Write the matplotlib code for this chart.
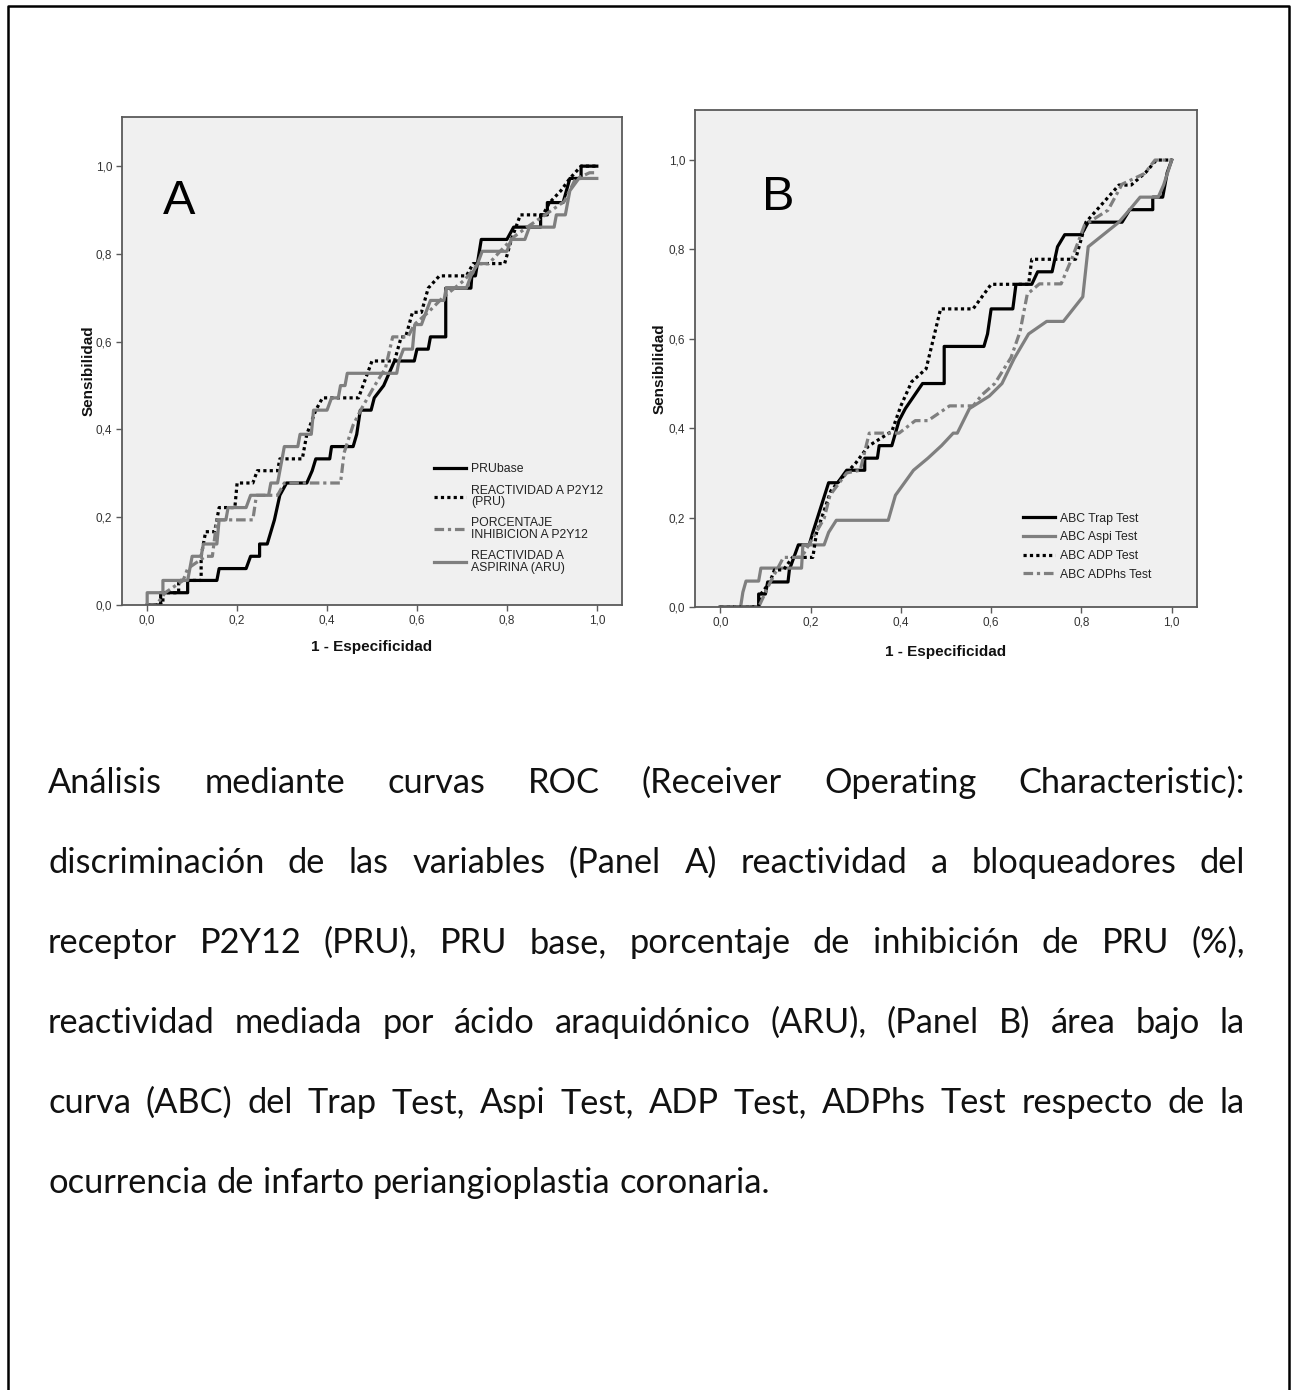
import matplotlib
matplotlib.use('Agg')
import matplotlib.pyplot as plt
from matplotlib.lines import Line2D

# ---- datos ----
tick_vals = [0.0, 0.2, 0.4, 0.6, 0.8, 1.0]
tick_labels = ['0,0', '0,2', '0,4', '0,6', '0,8', '1,0']

# Panel A
pru_base_x = [0, 0.03, 0.03, 0.09, 0.09, 0.155, 0.16, 0.22, 0.23, 0.25, 0.25, 0.267, 0.283, 0.295, 0.31, 0.355,
              0.367, 0.375, 0.406, 0.41, 0.458, 0.466, 0.474, 0.498, 0.505, 0.526, 0.55, 0.594, 0.6, 0.625, 0.63,
              0.664, 0.664, 0.72, 0.722, 0.73, 0.743, 0.80, 0.815, 0.875, 0.875, 0.89, 0.89, 0.925, 0.94, 0.965,
              0.965, 1.0]
pru_base_y = [0, 0, 0.028, 0.028, 0.056, 0.056, 0.083, 0.083, 0.111, 0.111, 0.139, 0.139, 0.194, 0.25, 0.278,
              0.278, 0.306, 0.333, 0.333, 0.361, 0.361, 0.389, 0.444, 0.444, 0.472, 0.5, 0.556, 0.556, 0.583,
              0.583, 0.611, 0.611, 0.722, 0.722, 0.75, 0.75, 0.833, 0.833, 0.861, 0.861, 0.889, 0.889, 0.917,
              0.917, 0.972, 0.972, 1.0, 1.0]

pru_x = [0, 0.035, 0.035, 0.07, 0.07, 0.12, 0.12, 0.13, 0.15, 0.16, 0.195, 0.2, 0.235, 0.245, 0.29, 0.295,
         0.345, 0.355, 0.375, 0.39, 0.47, 0.48, 0.5, 0.55, 0.565, 0.575, 0.59, 0.61, 0.625, 0.65, 0.71, 0.725,
         0.795, 0.81, 0.83, 0.88, 0.895, 0.92, 0.94, 0.965, 1.0]
pru_y = [0, 0, 0.028, 0.028, 0.056, 0.056, 0.111, 0.167, 0.167, 0.222, 0.222, 0.278, 0.278, 0.306, 0.306,
         0.333, 0.333, 0.389, 0.444, 0.472, 0.472, 0.5, 0.556, 0.556, 0.611, 0.611, 0.667, 0.667, 0.722, 0.75,
         0.75, 0.778, 0.778, 0.833, 0.889, 0.889, 0.917, 0.944, 0.972, 1.0, 1.0]

inhib_x = [0, 0.02, 0.04, 0.08, 0.09, 0.13, 0.145, 0.155, 0.235, 0.243, 0.29, 0.305, 0.43, 0.438, 0.458, 0.478,
           0.506, 0.53, 0.546, 0.58, 0.594, 0.625, 0.657, 0.705, 0.737, 0.76, 0.785, 0.817, 0.845, 0.885, 0.928,
           0.952, 0.984, 1.0]
inhib_y = [0, 0, 0.028, 0.056, 0.083, 0.111, 0.111, 0.194, 0.194, 0.25, 0.25, 0.278, 0.278, 0.347, 0.41, 0.45,
           0.5, 0.54, 0.611, 0.611, 0.639, 0.667, 0.7, 0.74, 0.778, 0.778, 0.806, 0.84, 0.861, 0.889, 0.92,
           0.97, 0.985, 0.985]

aru_x = [0, 0, 0.035, 0.035, 0.09, 0.1, 0.12, 0.125, 0.155, 0.16, 0.175, 0.18, 0.22, 0.23, 0.27, 0.275, 0.29,
         0.3, 0.305, 0.335, 0.34, 0.365, 0.37, 0.4, 0.41, 0.425, 0.43, 0.44, 0.445, 0.555, 0.56, 0.57, 0.59,
         0.595, 0.61, 0.62, 0.63, 0.66, 0.665, 0.71, 0.72, 0.735, 0.745, 0.8, 0.81, 0.84, 0.85, 0.905, 0.91,
         0.93, 0.94, 0.96, 1.0]
aru_y = [0, 0.028, 0.028, 0.056, 0.056, 0.111, 0.111, 0.139, 0.139, 0.194, 0.194, 0.222, 0.222, 0.25, 0.25,
         0.278, 0.278, 0.333, 0.361, 0.361, 0.389, 0.389, 0.444, 0.444, 0.472, 0.472, 0.5, 0.5, 0.528, 0.528,
         0.556, 0.583, 0.583, 0.639, 0.639, 0.667, 0.694, 0.694, 0.722, 0.722, 0.75, 0.778, 0.806, 0.806,
         0.833, 0.833, 0.861, 0.861, 0.889, 0.889, 0.944, 0.972, 0.972]

# Panel B
trap_x = [0, 0.085, 0.085, 0.1, 0.105, 0.15, 0.153, 0.173, 0.197, 0.205, 0.24, 0.26, 0.28, 0.32, 0.32, 0.348,
          0.352, 0.38, 0.396, 0.41, 0.448, 0.496, 0.496, 0.584, 0.592, 0.6, 0.648, 0.655, 0.69, 0.703, 0.735,
          0.747, 0.763, 0.8, 0.815, 0.89, 0.907, 0.958, 0.958, 0.98, 0.99, 1.0]
trap_y = [0, 0, 0.029, 0.029, 0.056, 0.056, 0.083, 0.139, 0.139, 0.167, 0.278, 0.278, 0.306, 0.306, 0.333,
          0.333, 0.361, 0.361, 0.417, 0.444, 0.5, 0.5, 0.583, 0.583, 0.611, 0.667, 0.667, 0.722, 0.722, 0.75,
          0.75, 0.806, 0.833, 0.833, 0.861, 0.861, 0.889, 0.889, 0.917, 0.917, 0.972, 1.0]

aspi_x = [0, 0.045, 0.05, 0.057, 0.085, 0.09, 0.18, 0.183, 0.23, 0.24, 0.257, 0.372, 0.388, 0.428, 0.46, 0.49,
          0.516, 0.525, 0.552, 0.596, 0.624, 0.651, 0.683, 0.723, 0.76, 0.803, 0.815, 0.883, 0.907, 0.93, 0.97,
          0.982, 1.0]
aspi_y = [0, 0, 0.033, 0.058, 0.058, 0.087, 0.087, 0.139, 0.139, 0.167, 0.194, 0.194, 0.25, 0.306, 0.333,
          0.361, 0.389, 0.389, 0.444, 0.472, 0.5, 0.556, 0.611, 0.639, 0.639, 0.694, 0.806, 0.861, 0.889, 0.917,
          0.917, 0.944, 1.0]

adp_x = [0, 0.085, 0.09, 0.11, 0.12, 0.14, 0.16, 0.17, 0.205, 0.213, 0.245, 0.273, 0.3, 0.328, 0.38, 0.4, 0.424,
         0.456, 0.488, 0.56, 0.6, 0.683, 0.69, 0.787, 0.81, 0.883, 0.91, 0.942, 0.966, 1.0]
adp_y = [0, 0, 0.029, 0.056, 0.083, 0.083, 0.111, 0.111, 0.111, 0.165, 0.26, 0.293, 0.322, 0.36, 0.393, 0.45,
         0.504, 0.533, 0.667, 0.667, 0.722, 0.722, 0.778, 0.778, 0.861, 0.944, 0.944, 0.972, 1.0, 1.0]

adphs_x = [0, 0.085, 0.11, 0.14, 0.18, 0.23, 0.243, 0.28, 0.31, 0.33, 0.396, 0.432, 0.46, 0.508, 0.56, 0.58,
           0.608, 0.644, 0.664, 0.68, 0.707, 0.755, 0.779, 0.807, 0.859, 0.89, 0.94, 0.963, 1.0]
adphs_y = [0, 0, 0.054, 0.111, 0.111, 0.198, 0.25, 0.3, 0.306, 0.389, 0.389, 0.417, 0.417, 0.45, 0.45, 0.475,
           0.5, 0.558, 0.616, 0.7, 0.723, 0.723, 0.78, 0.855, 0.888, 0.946, 0.97, 1.0, 1.0]

caption_lines = [
    "Análisis mediante curvas ROC (Receiver Operating Characteristic):",
    "discriminación de las variables (Panel A) reactividad a bloqueadores del",
    "receptor P2Y12 (PRU), PRU base, porcentaje de inhibición de PRU (%),",
    "reactividad mediada por ácido araquidónico (ARU), (Panel B) área bajo la",
    "curva (ABC) del Trap Test, Aspi Test, ADP Test, ADPhs Test respecto de la",
    "ocurrencia de infarto periangioplastia coronaria.",
]

# ---- figura ----
W, H = 1296, 1390
plt.rcParams['font.family'] = ['Liberation Sans', 'DejaVu Sans']
fig = plt.figure(figsize=(W / 100, H / 100), dpi=100)

def px_rect(left, top, right, bottom):
    return [left / W, 1 - bottom / H, (right - left) / W, (bottom - top) / H]

GRAY = '#7f7f7f'
LW = 2.3
DOT = (0, (1, 1))
DASHDOT = (0, (3, 1.2, 1, 1.2))

def style_axes(ax, ylab_x, xlab_y):
    ax.set_facecolor('#f0f0f0')
    ax.set_xlim(-0.056, 1.056)
    ax.set_ylim(0, 1.112)
    ax.set_xticks(tick_vals)
    ax.set_xticklabels(tick_labels)
    ax.set_yticks(tick_vals)
    ax.set_yticklabels(tick_labels)
    for sp in ax.spines.values():
        sp.set_color('#5a5a5a')
        sp.set_linewidth(1.3)
    ax.tick_params(direction='out', length=4, width=1, color='#5a5a5a',
                   labelsize=8.5, labelcolor='#333333', pad=3)
    ax.set_xlabel('1 - Especificidad', fontsize=11, fontweight='bold', color='#111111')
    ax.set_ylabel('Sensibilidad', fontsize=11, fontweight='bold', color='#111111')
    ax.xaxis.set_label_coords(0.5, xlab_y)
    ax.xaxis.label.set_va('center')
    ax.yaxis.set_label_coords(ylab_x, 0.48)
    ax.yaxis.label.set_va('center')

# Panel A
axA = fig.add_axes(px_rect(122, 117, 622, 605))
style_axes(axA, -0.066, -0.086)
lA1, = axA.plot(pru_base_x, pru_base_y, color='black', lw=LW)
lA2, = axA.plot(pru_x, pru_y, color='black', lw=LW, linestyle=DOT)
lA3, = axA.plot(inhib_x, inhib_y, color=GRAY, lw=LW, linestyle=DASHDOT)
lA4, = axA.plot(aru_x, aru_y, color=GRAY, lw=LW)
axA.text(0.036, 0.892, 'A', fontsize=35, color='black')
legA = axA.legend([lA1, lA2, lA3, lA4],
                  ['PRUbase', 'REACTIVIDAD A P2Y12\n(PRU)', 'PORCENTAJE\nINHIBICION A P2Y12',
                   'REACTIVIDAD A\nASPIRINA (ARU)'],
                  loc='upper left', bbox_to_anchor=(0.624, 0.29), frameon=False, fontsize=8.8,
                  handlelength=2.6, handletextpad=0.45, labelspacing=0.75, borderpad=0, borderaxespad=0)
for t in legA.get_texts():
    t.set_linespacing(0.95)
    t.set_color('#222222')

# Panel B
axB = fig.add_axes(px_rect(695, 110, 1197, 607))
style_axes(axB, -0.07, -0.09)
lB1, = axB.plot(trap_x, trap_y, color='black', lw=LW)
lB2, = axB.plot(aspi_x, aspi_y, color=GRAY, lw=LW)
lB3, = axB.plot(adp_x, adp_y, color='black', lw=LW, linestyle=DOT)
lB4, = axB.plot(adphs_x, adphs_y, color=GRAY, lw=LW, linestyle=DASHDOT)
axB.text(0.093, 0.888, 'B', fontsize=35, color='black')
legB = axB.legend([lB1, lB2, lB3, lB4],
                  ['ABC Trap Test', 'ABC Aspi Test', 'ABC ADP Test', 'ABC ADPhs Test'],
                  loc='upper left', bbox_to_anchor=(0.653, 0.19), frameon=False, fontsize=8.8,
                  handlelength=2.6, handletextpad=0.45, labelspacing=0.55, borderpad=0, borderaxespad=0)
for t in legB.get_texts():
    t.set_color('#222222')

# marco de la pagina (abierto abajo)
fig.add_artist(Line2D([8 / W, 8 / W, 1289 / W, 1289 / W], [0, 1 - 6 / H, 1 - 6 / H, 0],
                      transform=fig.transFigure, color='black', lw=1.8))

# ---- texto justificado ----
cap_left, cap_right = 48, 1245
baseline0, line_step = 793, 80
cap_font = dict(family=['Lato', 'DejaVu Sans'], color='#111111')
renderer = fig.canvas.get_renderer()

probe = fig.text(0, 0, caption_lines[-1], fontsize=20, **cap_font)
natural = probe.get_window_extent(renderer).width
probe.remove()
cap_size = 20 * 722 / natural

for i, line in enumerate(caption_lines):
    words = line.split(' ')
    yb = 1 - (baseline0 + i * line_step) / H
    arts = [fig.text(0, yb, w, fontsize=cap_size, va='baseline', ha='left', **cap_font) for w in words]
    widths = [a.get_window_extent(renderer).width for a in arts]
    if i < len(caption_lines) - 1:
        gap = (cap_right - cap_left - sum(widths)) / (len(words) - 1)
    else:
        gap = cap_size * 100 / 72 * 0.26
    x = cap_left
    for a, w in zip(arts, widths):
        a.set_x(x / W)
        x += w + gap

fig.savefig('out.png', dpi=100)
